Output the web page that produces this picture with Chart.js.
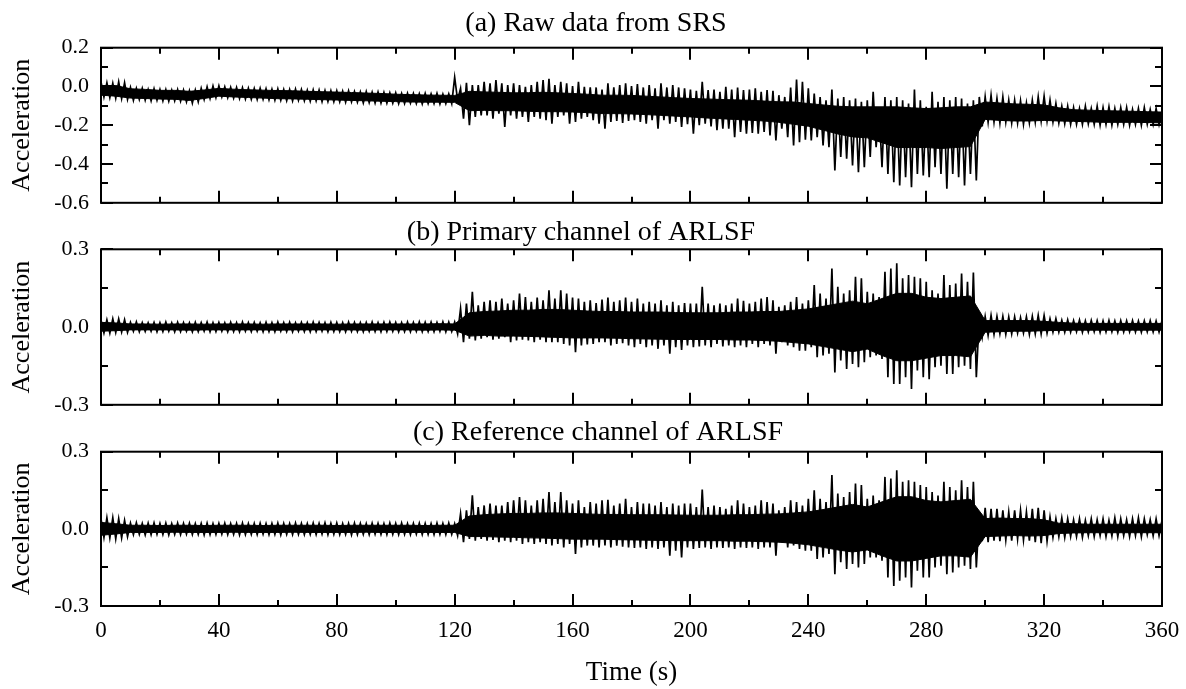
<!DOCTYPE html>
<html>
<head>
<meta charset="utf-8">
<script src="https://cdn.jsdelivr.net/npm/chart.js@4.4.1/dist/chart.umd.min.js"></script>
<style>
html,body{margin:0;padding:0;background:#fff;}
#wrap{position:relative;width:1186px;height:689px;overflow:hidden;background:#fff;}
canvas{position:absolute;left:0;}
</style>
</head>
<body>
<div id="wrap">
<canvas id="chartA" width="1186" height="228" style="top:0px;width:1186px;height:228px;"></canvas>
<canvas id="chartB" width="1186" height="220" style="top:210px;width:1186px;height:220px;"></canvas>
<canvas id="chartC" width="1186" height="279" style="top:410px;width:1186px;height:279px;"></canvas>
</div>
<script>
// ---------- DATA ----------
// Spike envelope, sampled every SAMPLE_STEP seconds:
// upper envelope at t = 0, 2, 4, ... 360 s ; lower envelope at t = 1, 3, ... 359 s
const SAMPLE_STEP = 2;
// Dense (solid black) core of each trace, sampled every CORE_STEP seconds: t = 0, 5, ... 360 s
const CORE_STEP = 5;

const panelTitles = ["(a) Raw data from SRS", "(b) Primary channel of ARLSF", "(c) Reference channel of ARLSF"];
const xTickValues = [0, 40, 80, 120, 160, 200, 240, 280, 320, 360];
const xMinorTicks = [20, 60, 100, 140, 180, 220, 260, 300, 340];
const yTicksA = [-0.6, -0.4, -0.2, 0.0, 0.2];
const yMinorA = [-0.5, -0.3, -0.1, 0.1];
const yTicksBC = [-0.3, 0.0, 0.3];
const yMinorBC = [-0.15, 0.15];

// (a) Raw data from SRS
const rawUpper = [
 0.024, 0.019, 0.016, 0.024, 0.019,  -0.005, -0.010, -0.010, -0.016, -0.012,
 -0.016, -0.016, -0.019, -0.016, -0.019,  -0.022, -0.019, -0.010, -0.002, 0.002,
 0.003, -0.002, -0.005, -0.005, -0.007,  -0.009, -0.010, -0.009, -0.012, -0.014,
 -0.012, -0.016, -0.016, -0.014, -0.016,  -0.019, -0.017, -0.019, -0.021, -0.022,
 -0.022, -0.024, -0.022, -0.026, -0.028,  -0.026, -0.029, -0.029, -0.031, -0.033,
 -0.033, -0.036, -0.035, -0.036, -0.038,  -0.036, -0.038, -0.036, -0.040, -0.038,
 0.047, -0.010, 0.019, 0.007, 0.007,  0.024, 0.016, 0.033, 0.016, 0.007,
 0.016, 0.007, -0.002, 0.007, 0.024,  0.033, 0.040, 0.007, 0.024, 0.016,
 0.002, 0.024, -0.002, -0.005, -0.005,  -0.016, 0.016, -0.005, 0.007, 0.016,
 0.002, 0.012, -0.005, 0.007, -0.010,  0.016, -0.005, 0.007, -0.005, -0.010,
 -0.016, -0.022, 0.024, -0.019, -0.016,  -0.028, -0.002, -0.016, -0.005, -0.019,
 -0.016, -0.010, -0.028, -0.019, -0.022,  -0.045, -0.054, -0.005, 0.036, 0.024,
 -0.010, -0.036, -0.054, -0.071, -0.016,  -0.062, -0.054, -0.071, -0.062, -0.079,
 -0.071, -0.028, -0.114, -0.054, -0.071,  -0.054, -0.071, -0.088, -0.016, -0.071,
 -0.105, -0.028, -0.079, -0.054, -0.071,  -0.054, -0.062, -0.088, -0.071, -0.054,
 -0.054, -0.045, -0.062, -0.054, -0.071,  -0.071, -0.074, -0.085, -0.071, -0.054,
 -0.050, -0.071, -0.088, -0.102, -0.102,  -0.109, -0.114, -0.102, -0.114, -0.102,
 -0.109, -0.105, -0.114, -0.109, -0.109,  -0.119, -0.114, -0.109, -0.119, -0.114,
 -0.123
];
const rawLower = [
 -0.054, -0.057, -0.060, -0.062, -0.067,  -0.071, -0.067, -0.071, -0.074, -0.071,
 -0.074, -0.076, -0.074, -0.076, -0.079,  -0.085, -0.079, -0.067, -0.062, -0.057,
 -0.054, -0.057, -0.060, -0.062, -0.064,  -0.066, -0.067, -0.066, -0.069, -0.071,
 -0.071, -0.073, -0.074, -0.071, -0.074,  -0.076, -0.074, -0.078, -0.078, -0.079,
 -0.079, -0.081, -0.079, -0.081, -0.085,  -0.083, -0.085, -0.085, -0.086, -0.086,
 -0.088, -0.088, -0.086, -0.088, -0.090,  -0.088, -0.088, -0.090, -0.088, -0.088,
 -0.071, -0.166, -0.200, -0.157, -0.149,  -0.149, -0.166, -0.140, -0.209, -0.149,
 -0.166, -0.157, -0.183, -0.157, -0.166,  -0.174, -0.192, -0.157, -0.149, -0.192,
 -0.183, -0.166, -0.157, -0.174, -0.192,  -0.218, -0.183, -0.178, -0.188, -0.178,
 -0.174, -0.183, -0.192, -0.174, -0.218,  -0.174, -0.192, -0.183, -0.209, -0.195,
 -0.243, -0.200, -0.192, -0.206, -0.226,  -0.218, -0.218, -0.261, -0.235, -0.243,
 -0.240, -0.243, -0.235, -0.252, -0.278,  -0.218, -0.261, -0.304, -0.287, -0.275,
 -0.278, -0.261, -0.304, -0.313, -0.433,  -0.364, -0.373, -0.408, -0.442, -0.416,
 -0.364, -0.313, -0.416, -0.451, -0.494,  -0.511, -0.468, -0.520, -0.451, -0.459,
 -0.468, -0.416, -0.451, -0.528, -0.451,  -0.468, -0.511, -0.451, -0.485, -0.206,
 -0.183, -0.183, -0.188, -0.183, -0.188,  -0.188, -0.195, -0.188, -0.183, -0.178,
 -0.178, -0.183, -0.188, -0.192, -0.195,  -0.195, -0.195, -0.192, -0.195, -0.200,
 -0.195, -0.200, -0.195, -0.195, -0.200,  -0.195, -0.200, -0.195, -0.195, -0.195
];
const rawCoreUpper = [
 0.005, 0.005, -0.012, -0.015, -0.020,  -0.020, -0.025, -0.018, -0.010, -0.014,
 -0.017, -0.019, -0.021, -0.022, -0.025,  -0.027, -0.029, -0.031, -0.034, -0.036,
 -0.040, -0.042, -0.044, -0.045, -0.046,  -0.025, -0.028, -0.030, -0.033, -0.032,
 -0.030, -0.033, -0.036, -0.040, -0.045,  -0.045, -0.046, -0.050, -0.054, -0.058,
 -0.062, -0.064, -0.067, -0.069, -0.071,  -0.075, -0.079, -0.080, -0.088, -0.095,
 -0.102, -0.105, -0.105, -0.105, -0.105,  -0.110, -0.114, -0.110, -0.105, -0.105,
 -0.080, -0.085, -0.090, -0.092, -0.095,  -0.110, -0.120, -0.122, -0.125, -0.126,
 -0.128, -0.130, -0.132
];
const rawCoreLower = [
 -0.045, -0.050, -0.060, -0.062, -0.065,  -0.066, -0.072, -0.062, -0.050, -0.054,
 -0.057, -0.060, -0.063, -0.064, -0.066,  -0.068, -0.070, -0.072, -0.074, -0.076,
 -0.078, -0.080, -0.081, -0.081, -0.082,  -0.125, -0.123, -0.125, -0.125, -0.128,
 -0.130, -0.130, -0.132, -0.135, -0.140,  -0.140, -0.142, -0.145, -0.149, -0.153,
 -0.157, -0.162, -0.166, -0.170, -0.174,  -0.178, -0.185, -0.195, -0.205, -0.225,
 -0.245, -0.260, -0.265, -0.290, -0.315,  -0.315, -0.315, -0.320, -0.315, -0.310,
 -0.170, -0.175, -0.178, -0.178, -0.175,  -0.178, -0.180, -0.182, -0.185, -0.185,
 -0.185, -0.186, -0.188
];

// (b) Primary channel of ARLSF
const primaryUpper = [
 0.026, 0.028, 0.032, 0.031, 0.028,  0.018, 0.020, 0.017, 0.016, 0.018,
 0.017, 0.019, 0.016, 0.018, 0.017,  0.016, 0.018, 0.017, 0.019, 0.017,
 0.018, 0.016, 0.018, 0.017, 0.019,  0.017, 0.018, 0.016, 0.018, 0.017,
 0.019, 0.017, 0.018, 0.016, 0.018,  0.017, 0.019, 0.018, 0.017, 0.018,
 0.018, 0.017, 0.019, 0.018, 0.017,  0.018, 0.019, 0.017, 0.018, 0.019,
 0.018, 0.017, 0.019, 0.018, 0.020,  0.018, 0.019, 0.018, 0.020, 0.019,
 0.019, 0.071, 0.091, 0.136, 0.084,  0.097, 0.103, 0.097, 0.110, 0.091,
 0.103, 0.129, 0.116, 0.097, 0.114,  0.103, 0.142, 0.110, 0.142, 0.129,
 0.114, 0.110, 0.097, 0.103, 0.093,  0.106, 0.114, 0.097, 0.103, 0.114,
 0.097, 0.110, 0.091, 0.097, 0.091,  0.103, 0.084, 0.097, 0.084, 0.093,
 0.091, 0.091, 0.155, 0.091, 0.084,  0.091, 0.084, 0.091, 0.110, 0.101,
 0.091, 0.097, 0.110, 0.116, 0.103,  0.078, 0.084, 0.097, 0.116, 0.091,
 0.103, 0.162, 0.129, 0.110, 0.226,  0.155, 0.129, 0.142, 0.194, 0.188,
 0.136, 0.129, 0.116, 0.213, 0.226,  0.246, 0.188, 0.201, 0.194, 0.188,
 0.175, 0.142, 0.129, 0.201, 0.162,  0.168, 0.207, 0.175, 0.210, 0.039,
 0.041, 0.045, 0.041, 0.041, 0.039,  0.039, 0.036, 0.039, 0.041, 0.045,
 0.045, 0.032, 0.032, 0.026, 0.028,  0.025, 0.027, 0.024, 0.026, 0.025,
 0.024, 0.026, 0.023, 0.025, 0.024,  0.025, 0.023, 0.024, 0.025, 0.023,
 0.024
];
const primaryLower = [
 -0.023, -0.023, -0.021, -0.019, -0.021,  -0.016, -0.018, -0.017, -0.016, -0.018,
 -0.017, -0.016, -0.018, -0.017, -0.016,  -0.018, -0.017, -0.016, -0.018, -0.017,
 -0.016, -0.018, -0.017, -0.018, -0.016,  -0.017, -0.016, -0.018, -0.017, -0.018,
 -0.016, -0.017, -0.018, -0.016, -0.017,  -0.018, -0.017, -0.016, -0.018, -0.017,
 -0.017, -0.018, -0.016, -0.017, -0.018,  -0.016, -0.017, -0.018, -0.017, -0.016,
 -0.018, -0.017, -0.018, -0.016, -0.018,  -0.017, -0.018, -0.016, -0.018, -0.017,
 -0.026, -0.058, -0.045, -0.052, -0.045,  -0.039, -0.049, -0.045, -0.039, -0.058,
 -0.052, -0.049, -0.052, -0.058, -0.049,  -0.058, -0.058, -0.058, -0.065, -0.071,
 -0.097, -0.071, -0.067, -0.065, -0.058,  -0.058, -0.071, -0.065, -0.062, -0.071,
 -0.078, -0.065, -0.078, -0.071, -0.084,  -0.071, -0.103, -0.078, -0.088, -0.071,
 -0.078, -0.075, -0.071, -0.078, -0.065,  -0.075, -0.071, -0.078, -0.071, -0.078,
 -0.065, -0.078, -0.065, -0.071, -0.103,  -0.058, -0.071, -0.078, -0.091, -0.091,
 -0.078, -0.116, -0.110, -0.103, -0.175,  -0.129, -0.162, -0.142, -0.155, -0.136,
 -0.116, -0.110, -0.123, -0.194, -0.220,  -0.220, -0.194, -0.239, -0.168, -0.194,
 -0.201, -0.155, -0.149, -0.181, -0.181,  -0.155, -0.149, -0.162, -0.194, -0.039,
 -0.032, -0.028, -0.026, -0.028, -0.026,  -0.023, -0.023, -0.028, -0.026, -0.026,
 -0.023, -0.019, -0.019, -0.020, -0.019,  -0.018, -0.020, -0.019, -0.018, -0.020,
 -0.019, -0.018, -0.020, -0.019, -0.018,  -0.019, -0.020, -0.018, -0.019, -0.019
];
const primaryCoreUpper = [
 0.018, 0.016, 0.012, 0.012, 0.011,  0.012, 0.012, 0.011, 0.012, 0.012,
 0.012, 0.011, 0.012, 0.012, 0.012,  0.012, 0.011, 0.012, 0.012, 0.012,
 0.012, 0.012, 0.012, 0.013, 0.012,  0.055, 0.060, 0.062, 0.065, 0.065,
 0.068, 0.068, 0.065, 0.062, 0.060,  0.060, 0.058, 0.058, 0.058, 0.056,
 0.055, 0.055, 0.055, 0.058, 0.058,  0.060, 0.060, 0.065, 0.070, 0.080,
 0.090, 0.100, 0.090, 0.110, 0.130,  0.130, 0.115, 0.110, 0.115, 0.120,
 0.025, 0.025, 0.025, 0.025, 0.022,  0.018, 0.015, 0.014, 0.014, 0.014,
 0.014, 0.014, 0.014
];
const primaryCoreLower = [
 -0.016, -0.014, -0.011, -0.011, -0.011,  -0.011, -0.012, -0.011, -0.011, -0.011,
 -0.011, -0.011, -0.012, -0.011, -0.011,  -0.011, -0.011, -0.011, -0.012, -0.011,
 -0.011, -0.011, -0.012, -0.011, -0.012,  -0.035, -0.032, -0.035, -0.035, -0.036,
 -0.038, -0.040, -0.042, -0.042, -0.042,  -0.043, -0.045, -0.046, -0.047, -0.048,
 -0.048, -0.048, -0.048, -0.050, -0.050,  -0.052, -0.055, -0.060, -0.065, -0.075,
 -0.085, -0.095, -0.085, -0.110, -0.130,  -0.130, -0.120, -0.110, -0.110, -0.115,
 -0.020, -0.018, -0.016, -0.016, -0.014,  -0.013, -0.012, -0.012, -0.012, -0.012,
 -0.012, -0.012, -0.012
];

// (c) Reference channel of ARLSF
const referenceUpper = [
 0.039, 0.043, 0.043, 0.039, 0.033,  0.022, 0.024, 0.021, 0.022, 0.023,
 0.021, 0.022, 0.020, 0.022, 0.021,  0.022, 0.020, 0.021, 0.022, 0.020,
 0.021, 0.022, 0.020, 0.021, 0.022,  0.020, 0.021, 0.022, 0.020, 0.021,
 0.022, 0.021, 0.020, 0.022, 0.021,  0.020, 0.022, 0.021, 0.023, 0.021,
 0.022, 0.020, 0.021, 0.022, 0.021,  0.020, 0.022, 0.021, 0.020, 0.022,
 0.021, 0.022, 0.020, 0.021, 0.022,  0.021, 0.020, 0.022, 0.021, 0.022,
 0.020, 0.059, 0.072, 0.130, 0.085,  0.091, 0.098, 0.091, 0.091, 0.104,
 0.111, 0.124, 0.111, 0.091, 0.111,  0.117, 0.143, 0.104, 0.143, 0.111,
 0.098, 0.111, 0.085, 0.104, 0.098,  0.111, 0.113, 0.091, 0.098, 0.117,
 0.085, 0.104, 0.098, 0.098, 0.091,  0.104, 0.085, 0.098, 0.091, 0.098,
 0.098, 0.085, 0.153, 0.085, 0.091,  0.085, 0.078, 0.091, 0.111, 0.098,
 0.085, 0.091, 0.111, 0.104, 0.098,  0.072, 0.085, 0.111, 0.104, 0.091,
 0.117, 0.150, 0.117, 0.104, 0.209,  0.137, 0.124, 0.143, 0.176, 0.170,
 0.117, 0.130, 0.111, 0.202, 0.196,  0.228, 0.183, 0.189, 0.183, 0.170,
 0.163, 0.143, 0.130, 0.183, 0.163,  0.150, 0.189, 0.163, 0.183, 0.059,
 0.082, 0.078, 0.078, 0.072, 0.065,  0.072, 0.072, 0.065, 0.078, 0.082,
 0.072, 0.046, 0.039, 0.043, 0.039,  0.035, 0.039, 0.033, 0.039, 0.035,
 0.039, 0.033, 0.043, 0.039, 0.035,  0.039, 0.043, 0.039, 0.035, 0.039,
 0.033
];
const referenceLower = [
 -0.033, -0.035, -0.039, -0.035, -0.030,  -0.022, -0.021, -0.023, -0.022, -0.021,
 -0.022, -0.023, -0.021, -0.022, -0.020,  -0.022, -0.021, -0.023, -0.022, -0.021,
 -0.020, -0.022, -0.021, -0.023, -0.022,  -0.021, -0.022, -0.020, -0.022, -0.021,
 -0.023, -0.021, -0.022, -0.021, -0.022,  -0.021, -0.022, -0.020, -0.022, -0.021,
 -0.022, -0.021, -0.023, -0.022, -0.021,  -0.022, -0.020, -0.021, -0.022, -0.021,
 -0.022, -0.021, -0.022, -0.020, -0.022,  -0.021, -0.022, -0.021, -0.022, -0.021,
 -0.026, -0.052, -0.039, -0.046, -0.039,  -0.046, -0.043, -0.052, -0.046, -0.052,
 -0.046, -0.059, -0.052, -0.059, -0.052,  -0.059, -0.065, -0.059, -0.072, -0.059,
 -0.098, -0.072, -0.065, -0.065, -0.072,  -0.065, -0.072, -0.065, -0.069, -0.072,
 -0.074, -0.072, -0.078, -0.072, -0.078,  -0.072, -0.104, -0.085, -0.111, -0.072,
 -0.078, -0.074, -0.072, -0.078, -0.072,  -0.074, -0.072, -0.078, -0.072, -0.074,
 -0.072, -0.078, -0.072, -0.072, -0.104,  -0.052, -0.072, -0.065, -0.078, -0.085,
 -0.085, -0.117, -0.111, -0.098, -0.176,  -0.130, -0.156, -0.137, -0.150, -0.137,
 -0.111, -0.111, -0.124, -0.189, -0.222,  -0.202, -0.189, -0.228, -0.163, -0.189,
 -0.189, -0.150, -0.143, -0.176, -0.170,  -0.150, -0.143, -0.156, -0.150, -0.048,
 -0.052, -0.046, -0.048, -0.043, -0.046,  -0.039, -0.043, -0.046, -0.052, -0.056,
 -0.048, -0.033, -0.030, -0.033, -0.030,  -0.030, -0.033, -0.026, -0.030, -0.026,
 -0.030, -0.027, -0.030, -0.026, -0.030,  -0.026, -0.030, -0.022, -0.027, -0.026
];
const referenceCoreUpper = [
 0.025, 0.020, 0.014, 0.014, 0.013,  0.014, 0.014, 0.013, 0.014, 0.014,
 0.014, 0.013, 0.014, 0.014, 0.014,  0.014, 0.013, 0.014, 0.014, 0.014,
 0.014, 0.014, 0.013, 0.014, 0.014,  0.050, 0.055, 0.058, 0.060, 0.060,
 0.062, 0.062, 0.060, 0.058, 0.056,  0.056, 0.055, 0.055, 0.055, 0.054,
 0.053, 0.053, 0.053, 0.055, 0.055,  0.057, 0.058, 0.062, 0.066, 0.075,
 0.085, 0.095, 0.085, 0.105, 0.125,  0.125, 0.110, 0.105, 0.110, 0.115,
 0.040, 0.042, 0.040, 0.040, 0.035,  0.022, 0.020, 0.018, 0.018, 0.018,
 0.018, 0.018, 0.018
];
const referenceCoreLower = [
 -0.025, -0.020, -0.014, -0.014, -0.014,  -0.013, -0.014, -0.014, -0.014, -0.013,
 -0.014, -0.014, -0.014, -0.013, -0.014,  -0.014, -0.014, -0.014, -0.013, -0.014,
 -0.014, -0.014, -0.014, -0.014, -0.014,  -0.030, -0.030, -0.032, -0.033, -0.035,
 -0.036, -0.038, -0.040, -0.040, -0.040,  -0.042, -0.043, -0.044, -0.045, -0.046,
 -0.046, -0.046, -0.046, -0.048, -0.048,  -0.050, -0.052, -0.056, -0.062, -0.072,
 -0.082, -0.090, -0.082, -0.105, -0.125,  -0.125, -0.115, -0.105, -0.105, -0.110,
 -0.030, -0.028, -0.026, -0.028, -0.026,  -0.018, -0.016, -0.015, -0.015, -0.015,
 -0.015, -0.015, -0.015
];

// ---------- CHART BUILDING ----------
const FONT = "'Liberation Serif', 'Times New Roman', serif";
Chart.defaults.font.family = FONT;
Chart.defaults.color = '#000';
const PLOT_LEFT = 101;   // left edge of every plot area (px)

function envelopePoints(upper, lower) {
  const pts = [];
  for (let i = 0; i < upper.length; i++) {
    pts.push({ x: i * SAMPLE_STEP, y: upper[i] });
    if (i < lower.length) pts.push({ x: i * SAMPLE_STEP + SAMPLE_STEP / 2, y: lower[i] });
  }
  return pts;
}
function corePoints(values) {
  return values.map((v, i) => ({ x: i * CORE_STEP, y: v }));
}

// frame around the plot plus inward-pointing major/minor ticks on all four sides
const frameTicks = {
  id: 'frameTicks',
  afterDraw(chart, args, opts) {
    const { ctx, chartArea: { left, right, top, bottom }, scales: { x, y } } = chart;
    ctx.save();
    ctx.strokeStyle = '#000';
    ctx.lineWidth = 2;
    ctx.beginPath();
    const tick = (list, len, horizontal) => {
      list.forEach(v => {
        if (horizontal) {
          const px = Math.round(x.getPixelForValue(v));
          ctx.moveTo(px, bottom); ctx.lineTo(px, bottom - len);
          ctx.moveTo(px, top); ctx.lineTo(px, top + len);
        } else {
          const py = Math.round(y.getPixelForValue(v));
          ctx.moveTo(left, py); ctx.lineTo(left + len, py);
          ctx.moveTo(right, py); ctx.lineTo(right - len, py);
        }
      });
    };
    tick(xTickValues, 12, true);
    tick(xMinorTicks, 6, true);
    tick(opts.yMajor, 12, false);
    tick(opts.yMinor, 7, false);
    ctx.stroke();
    ctx.strokeRect(left, top, right - left, bottom - top);
    ctx.restore();
  }
};

function makeChart(id, cfg) {
  const padLeft = cfg.padLeft;
  return new Chart(document.getElementById(id), {
    type: 'line',
    data: {
      datasets: [
        { data: corePoints(cfg.coreUpper), borderColor: '#000', borderWidth: 1, pointRadius: 0, tension: 0, fill: false },
        { data: corePoints(cfg.coreLower), borderColor: '#000', borderWidth: 1, pointRadius: 0, tension: 0,
          fill: '-1', backgroundColor: '#000' },
        { data: envelopePoints(cfg.upper, cfg.lower), borderColor: '#000', borderWidth: 1.7, pointRadius: 0, tension: 0, fill: false }
      ]
    },
    options: {
      responsive: false,
      animation: false,
      events: [],
      layout: { padding: { left: padLeft, right: 24, top: 0, bottom: cfg.padBottom } },
      plugins: {
        legend: { display: false },
        tooltip: { enabled: false },
        frameTicks: { yMajor: cfg.yTicks, yMinor: cfg.yMinor },
        title: {
          display: true, text: cfg.title, color: '#000',
          font: { family: FONT, size: 28, weight: 'normal', lineHeight: 1.2 },
          padding: { top: cfg.tTop, bottom: cfg.tBottom }
        }
      },
      scales: {
        x: {
          type: 'linear', min: 0, max: 360,
          grid: { display: false, drawTicks: false },
          border: { display: false },
          afterBuildTicks: s => { s.ticks = xTickValues.map(v => ({ value: v })); },
          afterFit: s => { s.paddingLeft = 0; s.paddingRight = 0; },
          ticks: { display: cfg.showX, color: '#000', font: { family: FONT, size: 23 }, padding: 11, maxRotation: 0, autoSkip: false },
          title: { display: cfg.showX, text: 'Time (s)', color: '#000', font: { family: FONT, size: 27, lineHeight: 1.2 }, padding: { top: 1, bottom: 0 } }
        },
        y: {
          type: 'linear', min: cfg.ymin, max: cfg.ymax,
          grid: { display: false, drawTicks: false },
          border: { display: false },
          afterBuildTicks: s => { s.ticks = cfg.yTicks.map(v => ({ value: v })); },
          afterFit: s => { s.width = PLOT_LEFT - padLeft; },
          ticks: { color: '#000', font: { family: FONT, size: 22 }, padding: 12, callback: v => Number(v).toFixed(1) },
          title: { display: true, text: 'Acceleration', color: '#000', font: { family: FONT, size: 26, lineHeight: 1.2 },
                   padding: { top: 7 - padLeft, bottom: 0 } }
        }
      }
    },
    plugins: [frameTicks]
  });
}

makeChart('chartA', { upper: rawUpper, lower: rawLower, coreUpper: rawCoreUpper, coreLower: rawCoreLower,
  title: panelTitles[0], ymin: -0.6, ymax: 0.2, padLeft: 30,
  yTicks: yTicksA, yMinor: yMinorA, showX: false, tTop: 6.4, tBottom: 7.7, padBottom: 14 });
makeChart('chartB', { upper: primaryUpper, lower: primaryLower, coreUpper: primaryCoreUpper, coreLower: primaryCoreLower,
  title: panelTitles[1], ymin: -0.3, ymax: 0.3, padLeft: 0,
  yTicks: yTicksBC, yMinor: yMinorBC, showX: false, tTop: 5.7, tBottom: 0, padBottom: 14 });
makeChart('chartC', { upper: referenceUpper, lower: referenceLower, coreUpper: referenceCoreUpper, coreLower: referenceCoreLower,
  title: panelTitles[2], ymin: -0.3, ymax: 0.3, padLeft: 34,
  yTicks: yTicksBC, yMinor: yMinorBC, showX: true, tTop: 6.1, tBottom: 2.0, padBottom: 0 });
</script>
</body>
</html>
